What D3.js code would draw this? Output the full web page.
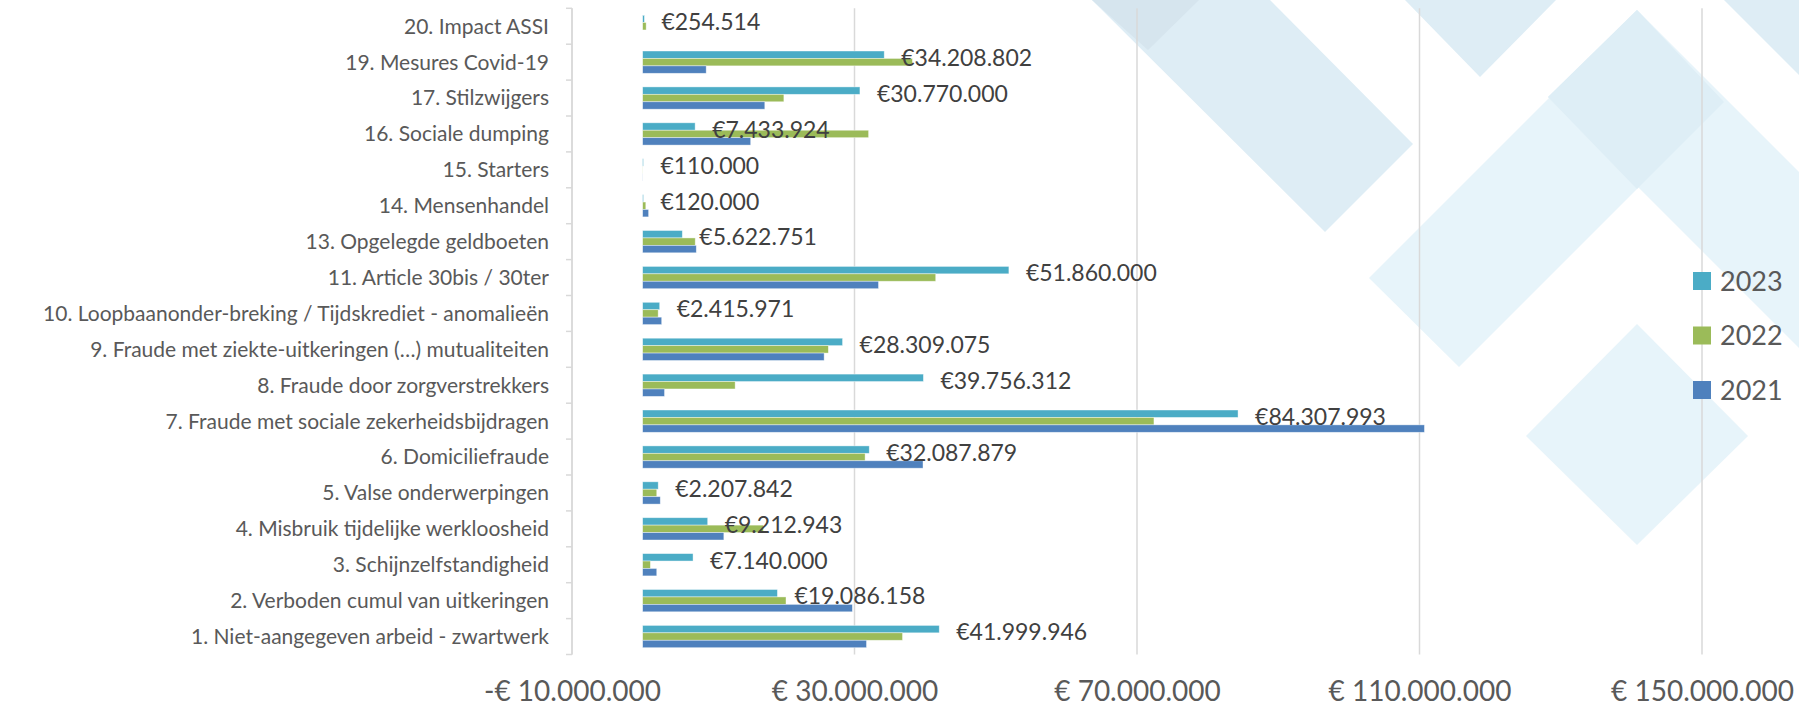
<!DOCTYPE html>
<html>
<head>
<meta charset="utf-8">
<title>Fraude bedragen 2021-2023</title>
<script src="https://cdn.jsdelivr.net/npm/d3@7"></script>
<style>
    body { margin: 0; background: #fff; }
    #chart-area { width: 1799px; height: 708px; }
    text { font-family: Lato, "Open Sans", sans-serif; }
</style>
</head>
<body>
<div id="chart-area"></div>
<script>

// categories, top to bottom as in the chart
const categories = [
    "20. Impact ASSI",
    "19. Mesures Covid-19",
    "17. Stilzwijgers",
    "16. Sociale dumping",
    "15. Starters",
    "14. Mensenhandel",
    "13. Opgelegde geldboeten",
    "11. Article 30bis / 30ter",
    "10. Loopbaanonder-breking / Tijdskrediet - anomalieën",
    "9. Fraude met ziekte-uitkeringen (…) mutualiteiten",
    "8. Fraude door zorgverstrekkers",
    "7. Fraude met sociale zekerheidsbijdragen",
    "6. Domiciliefraude",
    "5. Valse onderwerpingen",
    "4. Misbruik tijdelijke werkloosheid",
    "3. Schijnzelfstandigheid",
    "2. Verboden cumul van uitkeringen",
    "1. Niet-aangegeven arbeid - zwartwerk"
];

const years = ["2023", "2022", "2021"];

// 2023 values are the labelled ones
const values2023 = [254514, 34208802, 30770000, 7433924, 110000, 120000, 5622751, 51860000, 2415971,
    28309075, 39756312, 84307993, 32087879, 2207842, 9212943, 7140000, 19086158, 41999946];
const values2022 = [500000, 38200000, 20000000, 32000000, 20000, 450000, 7450000, 41500000, 2200000,
    26300000, 13100000, 72400000, 31500000, 2000000, 17100000, 1100000, 20300000, 36800000];
const values2021 = [0, 9000000, 17300000, 15300000, 20000, 850000, 7600000, 33400000, 2700000,
    25700000, 3100000, 110700000, 39700000, 2500000, 11500000, 2000000, 29700000, 31700000];

const xTicks = [-10000000, 30000000, 70000000, 110000000, 150000000];

// decorative background (the diamonds behind the plot), not data
const bgShapes = [
    [[1092, 0], [1270, 0], [1413, 144], [1325, 232]],
    [[1092, 0], [1199, 0], [1148, 50]],
    [[1405, 0], [1556, 0], [1480, 77]],
    [[1724, 0], [1799, 0], [1799, 75]],
    [[1637, 10], [1724, 102], [1459, 367], [1369, 278]],
    [[1637, 10], [1799, 172], [1799, 348], [1548, 97]],
    [[1637, 10], [1724, 102], [1637, 189], [1548, 97]],
    [[1637, 324], [1748, 436], [1637, 545], [1526, 436]]
];
const bgFills = ["#deedf5", "#d6e5ee", "#deedf5", "#deedf5", "#e7f4fa", "#e7f4fa", "#deeef6", "#e7f4fa"];


class BarVis {

    constructor(parentElement) {
        this.parentElement = parentElement;
        this.displayData = [];

        this.colors = {"2023": "#4BACC6", "2022": "#9BBB59", "2021": "#4F81BD"};

        // euro formats, dutch style grouping
        this.tickFormat = d3.formatLocale({decimal: ",", thousands: ".", grouping: [3], currency: ["€ ", ""], minus: "-"}).format("$,.0f");
        this.labelFormat = d3.formatLocale({decimal: ",", thousands: ".", grouping: [3], currency: ["€", ""], minus: "-"}).format("$,.0f");

        this.initVis();
    }

    initVis() {
        let vis = this;

        vis.width = 1799;
        vis.height = 708;

        vis.svg = d3.select("#" + vis.parentElement).append("svg")
            .attr("width", vis.width)
            .attr("height", vis.height);

        // background pattern
        vis.svg.append("g")
            .attr("class", "bg")
            .selectAll("polygon")
            .data(bgShapes)
            .enter().append("polygon")
            .attr("points", d => d.map(p => p.join(",")).join(" "))
            .attr("fill", (d, i) => bgFills[i]);

        // scales
        vis.x = d3.scaleLinear()
            .domain([-10000000, 150000000])
            .range([572, 1702]);

        vis.y = d3.scaleBand()
            .domain(categories)
            .range([8.3, 654.5]);

        vis.ySub = d3.scaleBand()
            .domain(years)
            .range([0, vis.y.bandwidth()])
            .paddingInner(0)
            .paddingOuter(0.915);

        // gridlines
        vis.svg.append("g")
            .attr("class", "grid")
            .selectAll("line")
            .data(xTicks)
            .enter().append("line")
            .attr("x1", d => vis.x(d))
            .attr("x2", d => vis.x(d))
            .attr("y1", vis.y.range()[0])
            .attr("y2", vis.y.range()[1])
            .attr("stroke", "#d9d9d9")
            .attr("stroke-width", 1.5);

        // category axis, ticks sit between the categories
        let bounds = categories.map(d => vis.y(d)).concat([vis.y.range()[1]]);
        let catAxis = vis.svg.append("g").attr("class", "cat-axis");

        catAxis.append("line")
            .attr("x1", vis.x(-10000000))
            .attr("x2", vis.x(-10000000))
            .attr("y1", vis.y.range()[0])
            .attr("y2", vis.y.range()[1])
            .attr("stroke", "#d9d9d9")
            .attr("stroke-width", 1.5);

        catAxis.selectAll(".tick")
            .data(bounds)
            .enter().append("line")
            .attr("class", "tick")
            .attr("x1", vis.x(-10000000) - 6)
            .attr("x2", vis.x(-10000000))
            .attr("y1", d => d)
            .attr("y2", d => d)
            .attr("stroke", "#d9d9d9")
            .attr("stroke-width", 1.5);

        catAxis.selectAll(".cat-label")
            .data(categories)
            .enter().append("text")
            .attr("class", "cat-label")
            .attr("x", 549)
            .attr("y", d => vis.y(d) + vis.y.bandwidth() / 2)
            .attr("dy", "0.35em")
            .attr("text-anchor", "end")
            .attr("fill", "#595959")
            .style("font-size", "21px")
            .text(d => d);

        // value axis at the bottom
        vis.xAxisGroup = vis.svg.append("g")
            .attr("class", "x-axis")
            .attr("transform", "translate(0, 701)");

        vis.xAxisGroup.call(d3.axisBottom(vis.x).tickValues(xTicks).tickFormat(vis.tickFormat).tickSize(0))
            .call(g => g.select(".domain").remove());

        vis.xAxisGroup.selectAll("text")
            .attr("y", 0)
            .attr("dy", 0)
            .attr("fill", "#595959")
            .style("font-family", "Lato, 'Open Sans', sans-serif")
            .style("font-size", "28px");

        vis.barGroup = vis.svg.append("g").attr("class", "bars");
        vis.labelGroup = vis.svg.append("g").attr("class", "labels");

        // legend
        vis.legend = vis.svg.append("g")
            .attr("class", "legend")
            .attr("transform", "translate(1693, 281)");

        let items = vis.legend.selectAll(".item")
            .data(years)
            .enter().append("g")
            .attr("class", "item")
            .attr("transform", (d, i) => `translate(0, ${i * 54.5})`);

        items.append("rect")
            .attr("x", 0)
            .attr("y", -9)
            .attr("width", 18)
            .attr("height", 18)
            .attr("fill", d => vis.colors[d]);

        items.append("text")
            .attr("x", 27)
            .attr("y", 0)
            .attr("dy", "0.36em")
            .attr("fill", "#595959")
            .style("font-size", "27px")
            .text(d => d);

        vis.wrangleData();
    }

    wrangleData() {
        let vis = this;

        // one row per category with the three years
        vis.displayData = categories.map((c, i) => ({
            category: c,
            values: [
                {year: "2023", value: values2023[i]},
                {year: "2022", value: values2022[i]},
                {year: "2021", value: values2021[i]}
            ]
        }));

        vis.updateVis();
    }

    updateVis() {
        let vis = this;

        let groups = vis.barGroup.selectAll(".cat")
            .data(vis.displayData)
            .enter().append("g")
            .attr("class", "cat")
            .attr("transform", d => `translate(0, ${vis.y(d.category)})`);

        groups.selectAll("rect")
            .data(d => d.values)
            .enter().append("rect")
            .attr("x", vis.x(0))
            .attr("y", d => vis.ySub(d.year))
            .attr("width", d => Math.max(0, vis.x(d.value) - vis.x(0)))
            .attr("height", vis.ySub.bandwidth())
            .attr("fill", d => vis.colors[d.year])
            .attr("stroke", "rgba(255,255,255,0.55)")
            .attr("stroke-width", 0.75);

        // labels only for 2023, next to the teal bar (sits a touch low, like excel)
        vis.labelGroup.selectAll("text")
            .data(vis.displayData)
            .enter().append("text")
            .attr("x", d => vis.x(d.values[0].value) + 17)
            .attr("y", d => vis.y(d.category) + vis.ySub("2023") + vis.ySub.bandwidth() / 2 + 3)
            .attr("dy", "0.36em")
            .attr("fill", "#404040")
            .style("font-size", "23px")
            .text(d => vis.labelFormat(d.values[0].value));
    }
}

new BarVis("chart-area");

</script>
</body>
</html>
